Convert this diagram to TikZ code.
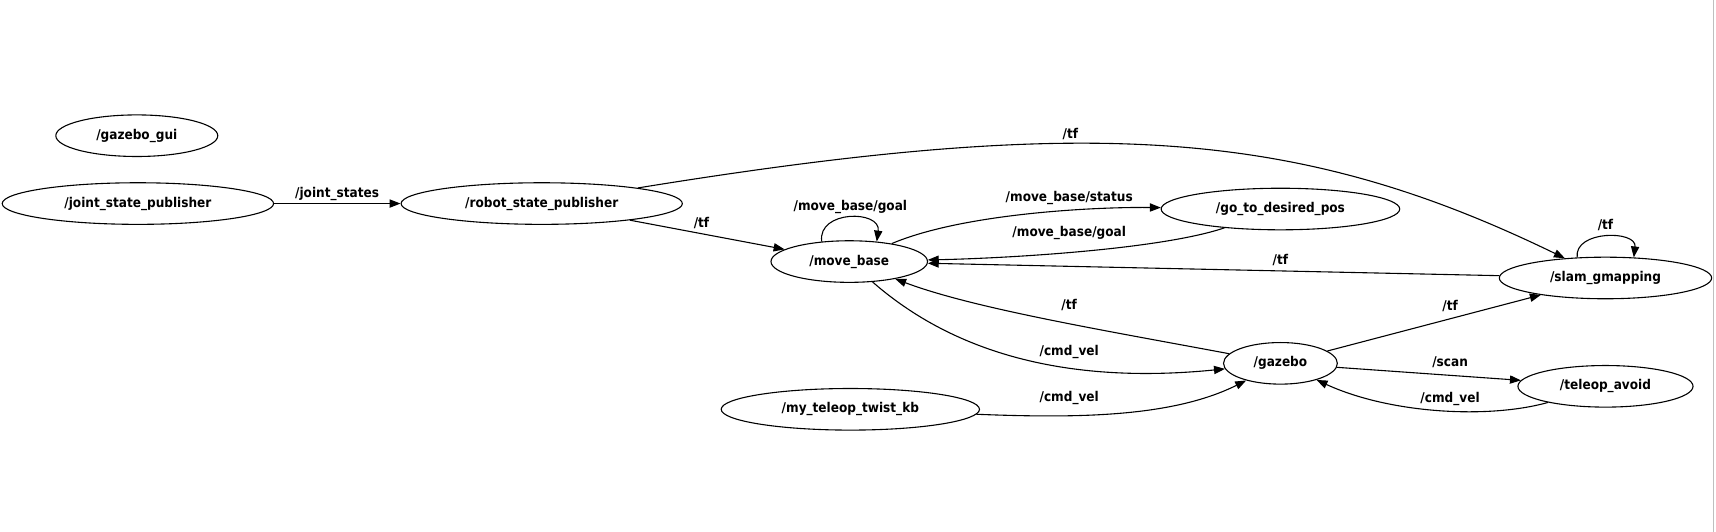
\documentclass[tikz,border=0pt]{standalone}
\usepackage{fontspec}
\setmainfont{DejaVu Sans Condensed}
\usetikzlibrary{shapes.geometric,arrows.meta}

\begin{document}
\begin{tikzpicture}
  [x=1pt,y=-1pt,
   rosnode/.style={ellipse,draw=black,line width=1pt,inner sep=0pt,minimum height=38pt,font=\fontsize{12.3}{14}\selectfont\bfseries},
   topic/.style={inner sep=0pt,font=\fontsize{12.3}{14}\selectfont\bfseries},
   edge/.style={line width=1pt,-{Triangle[length=10pt,width=7.5pt]}}]
\useasboundingbox (0,0) rectangle (1568,486);
% borde derecho de la captura
\draw[black!25,line width=1pt] (1566,0) -- (1566,486);

% Nodos del grafo
  \node[rosnode,minimum width=148pt] (gui)   at (125,124)   {/gazebo\_gui};
  \node[rosnode,minimum width=248pt] (jsp)   at (126,186)   {/joint\_state\_publisher};
  \node[rosnode,minimum width=257pt] (rsp)   at (495,186)   {/robot\_state\_publisher};
  \node[rosnode,minimum width=143pt] (mb)    at (776,239)   {/move\_base};
  \node[rosnode,minimum width=218pt] (goal)  at (1170,191)  {/go\_to\_desired\_pos};
  \node[rosnode,minimum width=194pt] (slam)  at (1467,254)  {/slam\_gmapping};
  \node[rosnode,minimum width=104pt] (gz)    at (1170,332)  {/gazebo};
  \node[rosnode,minimum width=160pt] (avoid) at (1467,353)  {/teleop\_avoid};
  \node[rosnode,minimum width=236pt] (kb)    at (777,374)   {/my\_teleop\_twist\_kb};

  % Topicos
  \draw[edge] (jsp) -- (rsp) node[topic] (t1) at (308,177) {/joint\_states};
  \draw[edge] (rsp) .. controls (1000,104) and (1187,118) .. (slam) node[topic] (t2) at (978,122) {/tf};
  \draw[edge] (rsp) -- (mb) node[topic] (t3) at (641,204) {/tf};
  \draw[edge] (mb.144) .. controls +(-4,-29) and +(4,-29) .. (mb.36) node[topic] (t4) at (777,189) {/move\_base/goal};
  \draw[edge] (mb) .. controls (880,195) and (1000,189) .. (goal) node[topic] (t5) at (977,181) {/move\_base/status};
  \draw[edge] (goal) .. controls (1060,228) and (920,236) .. (mb) node[topic] (t6) at (977,213) {/move\_base/goal};
  \draw[edge] (slam) -- (mb) node[topic] (t7) at (1170,238) {/tf};
  \draw[edge] (slam.144) .. controls +(-3,-25) and +(3,-25) .. (slam.36) node[topic] (t8) at (1467,206) {/tf};
  \draw[edge] (gz) .. controls (1010,302) and (890,282) .. (mb) node[topic] (t9) at (977,279) {/tf};
  \draw[edge] (mb) .. controls (880,330) and (990,350) .. (gz) node[topic] (t10) at (977,322) {/cmd\_vel};
  \draw[edge] (gz) -- (slam) node[topic] (t11) at (1325,280) {/tf};
  \draw[edge] (gz) -- (avoid) node[topic] (t12) at (1325,331) {/scan};
  \draw[edge] (avoid) .. controls (1360,383) and (1270,378) .. (gz) node[topic] (t13) at (1325,365) {/cmd\_vel};
  \draw[edge] (kb) .. controls (980,382) and (1070,382) .. (gz) node[topic] (t14) at (977,364) {/cmd\_vel};
\end{tikzpicture}
\end{document}
